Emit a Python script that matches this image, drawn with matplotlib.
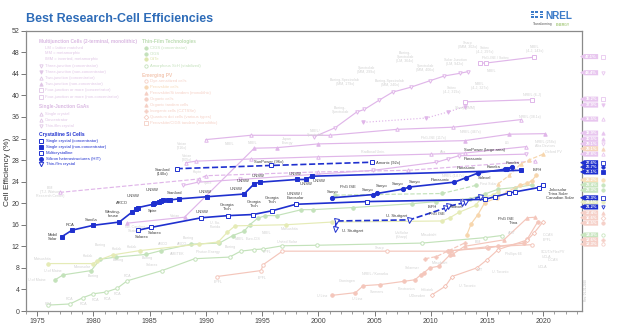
import matplotlib.pyplot as plt
from matplotlib.lines import Line2D
from matplotlib.patches import Polygon, Rectangle
from matplotlib.transforms import blended_transform_factory

plt.rcParams['font.family'] = ['Liberation Sans', 'DejaVu Sans']

W, H = 622, 328

# ---------------- crystalline Si cells (highlighted) ----------------
si_conc_year = [1987.4, 1995.8, 2004.8]
si_conc_eff = [26.4, 27.0, 27.6]

si_sc_year = [1977.2, 1978.1, 1980.0, 1982.3, 1983.4, 1983.8, 1984.0, 1985.3, 1985.4,
              1985.8, 1986.0, 1986.2, 1986.6, 1986.8, 1987.6, 1990.1, 1993.4, 1994.3,
              1994.8, 1998.1, 1998.9, 1999.4, 2018.0]
si_sc_eff = [13.8, 15.0, 15.9, 16.5, 18.3, 18.9, 19.2, 19.8, 20.1,
             20.2, 20.4, 20.5, 20.6, 20.6, 20.8, 21.2, 21.7, 23.6,
             23.9, 24.4, 24.4, 25.0, 26.1]

si_hit_year = [2001.2, 2004.9, 2005.2, 2007.5, 2008.1, 2012.1, 2013.1, 2014.2, 2016.6, 2016.8, 2017.2]
si_hit_eff = [21.0, 21.6, 21.8, 22.6, 23.0, 23.9, 24.7, 25.6, 26.3, 26.4, 26.7]

si_mc_year = [1984.0, 1985.1, 1989.6, 1992.0, 1994.2, 1995.9, 1998.0, 2004.3, 2014.8,
              2015.7, 2017.0, 2017.5, 2019.6, 2020.0]
si_mc_eff = [15.0, 15.5, 17.3, 17.7, 17.9, 18.6, 19.8, 20.3, 20.7,
             21.2, 21.9, 22.1, 22.9, 23.3]

si_tf_year = [2001.5, 2001.6, 2008.1, 2011.3, 2011.5, 2012.8, 2013.0, 2014.4]
si_tf_eff = [15.3, 16.7, 16.9, 19.1, 19.4, 20.0, 20.3, 21.2]

# ---------------- other technologies (background) ----------------
mj4_conc_year = [2014.4, 2014.9, 2019.2]
mj4_conc_eff = [46.0, 46.0, 47.1]

mj3_conc_year = [1999.6, 2001.5, 2003.4, 2004.1, 2005.4, 2006.6, 2008.2, 2009.9, 2011.2, 2012.6, 2013.3]
mj3_conc_eff = [32.3, 34.0, 36.9, 37.4, 39.1, 40.6, 41.5, 42.7, 43.6, 44.1, 44.4]

mj4_nc_year = [2013.0, 2019.0]
mj4_nc_eff = [38.8, 39.2]

mj3_nc_year = [2004.0, 2009.6, 2011.5, 2013.0]
mj3_nc_eff = [35.0, 35.8, 36.9, 37.9]

mj2_conc_year = [1990.0, 1994.0, 2001.0, 2007.0, 2012.0, 2018.0]
mj2_conc_eff = [31.8, 32.6, 32.6, 33.7, 34.1, 35.5]

mj2_nc_year = [1983.0, 1988.1, 1994.3, 1996.3, 2000.0, 2013.0, 2017.0, 2020.2]
mj2_nc_eff = [16.3, 17.4, 30.2, 30.3, 31.0, 31.6, 32.8, 32.9]

gaas_conc_year = [1988.2, 1989.1, 1994.0, 2000.0, 2010.0, 2013.0, 2018.5]
gaas_conc_eff = [27.5, 27.8, 28.2, 28.6, 29.1, 29.3, 30.5]

gaas_sc_year = [1977.0, 1989.4, 1990.0, 2000.0, 2008.0, 2019.3]
gaas_sc_eff = [22.0, 24.5, 25.1, 25.8, 26.1, 27.8]

gaas_tf_year = [1988.0, 1989.3, 1993.0, 2004.9, 2010.5, 2011.5, 2012.5, 2018.5]
gaas_tf_eff = [23.3, 23.9, 24.4, 26.1, 27.6, 28.2, 28.8, 29.1]

cigs_year = [1976.6, 1977.3, 1979.8, 1980.6, 1982.0, 1984.7, 1986.0, 1988.7, 1991.2, 1992.4,
             1993.4, 1993.9, 1994.6, 1995.3, 1996.3, 1998.5, 1999.5, 2003.1, 2008.3, 2010.5,
             2013.5, 2014.8, 2016.0, 2017.5, 2019.0]
cigs_eff = [5.8, 6.7, 7.5, 9.6, 10.0, 10.5, 11.2, 12.4, 12.6, 14.0,
            14.8, 16.0, 17.2, 17.7, 17.7, 18.8, 18.8, 19.2, 19.9, 20.3,
            20.8, 21.7, 22.6, 22.9, 23.4]

cigs_conc_year = [2001.5, 2011.0, 2014.0]
cigs_conc_eff = [21.5, 21.8, 23.3]

cdte_year = [1976.0, 1980.0, 1980.3, 1981.7, 1984.1, 1989.4, 1991.1, 1991.9, 1992.6, 1997.1,
             2001.2, 2011.0, 2011.7, 2012.5, 2014.0, 2014.5, 2015.5, 2016.0]
cdte_eff = [8.8, 8.8, 9.3, 10.4, 11.2, 12.4, 12.8, 14.6, 15.8, 16.0,
            16.5, 16.7, 17.3, 18.3, 19.6, 21.0, 21.5, 22.1]

asi_year = [1976.0, 1977.9, 1979.1, 1980.0, 1981.1, 1982.1, 1983.0, 1986.1, 1989.0, 1992.1,
            1993.1, 1994.3, 1995.1, 1996.8, 1999.9, 2009.2, 2014.8, 2016.3]
asi_eff = [1.1, 1.3, 2.5, 3.2, 3.5, 4.2, 5.6, 7.5, 9.7, 10.0,
           11.1, 11.4, 11.5, 12.1, 12.2, 12.6, 13.6, 14.0]

dssc_year = [1991.0, 1994.9, 1995.1, 1996.8, 2006.1, 2011.5, 2015.0, 2019.0]
dssc_eff = [6.4, 7.5, 8.6, 11.1, 11.1, 11.1, 11.9, 12.3]

opv_year = [2001.2, 2003.3, 2004.0, 2005.5, 2007.6, 2008.6, 2009.1, 2009.4, 2009.9, 2010.7,
            2011.7, 2011.8, 2015.1, 2016.0, 2018.3, 2018.6, 2019.5]
opv_eff = [2.9, 3.4, 4.7, 4.9, 5.5, 5.8, 6.7, 7.1, 8.0, 8.3,
           10.4, 11.2, 11.7, 12.0, 12.6, 13.4, 16.5]

opv_tandem_year = [2012.0, 2013.0, 2016.5, 2018.6, 2019.3]
opv_tandem_eff = [10.6, 12.0, 13.2, 17.3, 17.4]

qd_year = [2010.1, 2011.3, 2011.9, 2014.1, 2015.0, 2016.0, 2018.6, 2019.2, 2020.0]
qd_eff = [3.0, 4.6, 6.4, 8.0, 9.5, 11.4, 13.2, 14.5, 16.6]

cztsse_year = [2009.5, 2010.5, 2011.5, 2013.0]
cztsse_eff = [9.7, 10.1, 11.1, 12.6]

pvk_year = [2013.2, 2013.6, 2014.2, 2014.8, 2015.9, 2016.8, 2017.9, 2018.6, 2019.0, 2019.4]
pvk_eff = [14.1, 16.2, 17.9, 20.1, 21.0, 22.1, 23.3, 23.7, 24.2, 25.2]

pvk_si_year = [2016.0, 2017.0, 2018.0, 2018.7, 2020.0]
pvk_si_eff = [23.6, 25.2, 27.3, 28.0, 29.1]

# right-hand result tags: vertical slot of each tag (in % units)
tag_slot_si = [27.5, 26.7, 25.8, 21.0, 19.3]
tag_slot_bg = [47.2, 44.2, 39.3, 38.2, 35.6, 33.0, 31.9, 31.0, 30.1, 29.1,
               24.3, 23.4, 22.4, 20.2, 18.2, 17.3, 16.3, 14.1, 13.2, 12.4]

BLUE = '#1f30cf'
PURPLE = '#e0b6e9'
GREEN = '#c3e2ba'
YGREEN = '#e5ebb6'
ORANGE = '#f7d6ad'
SALMON = '#f4c6bb'
FAINT_TXT = '#d2d2d2'

fig = plt.figure(figsize=(W / 100, H / 100), dpi=100)
ax = fig.add_axes([26 / W, 1 - 311 / H, 556 / W, (311 - 30.7) / H])
ax.set_xlim(1974.0, 2023.45)
ax.set_ylim(0, 52)


def px(x, y):
    return x / W, 1 - y / H


def draw(xs, ys, color, marker, ls='-', open_=False, ms=2.5, lw=0.85, z=2):
    ax.plot(xs, ys, color=color, ls=ls, lw=lw, marker=marker, ms=ms,
            mfc='white' if open_ else color, mec=color, mew=0.7, zorder=z)


# background technologies
draw(mj4_conc_year, mj4_conc_eff, PURPLE, 's', open_=True)
draw(mj3_conc_year, mj3_conc_eff, PURPLE, 'v', open_=True)
draw(mj4_nc_year, mj4_nc_eff, PURPLE, 's', open_=True)
draw(mj3_nc_year, mj3_nc_eff, PURPLE, 'v', ls=':')
draw(mj2_conc_year, mj2_conc_eff, PURPLE, '^', open_=True)
draw(mj2_nc_year, mj2_nc_eff, PURPLE, '^')
draw(gaas_conc_year, gaas_conc_eff, PURPLE, '^', open_=True)
draw(gaas_sc_year, gaas_sc_eff, PURPLE, '^', ls='--', open_=True)
draw(gaas_tf_year, gaas_tf_eff, PURPLE, 'v', open_=True)
draw(cigs_year, cigs_eff, GREEN, 'o')
draw(cigs_conc_year, cigs_conc_eff, GREEN, 'o', ls='--')
draw(cdte_year, cdte_eff, YGREEN, 'o')
draw(asi_year, asi_eff, GREEN, 'o', open_=True)
draw(dssc_year, dssc_eff, SALMON, 'o', open_=True)
draw(opv_year, opv_eff, SALMON, 'o')
draw(opv_tandem_year, opv_tandem_eff, SALMON, '^')
draw(qd_year, qd_eff, SALMON, 'D', open_=True, ms=2.2)
draw(cztsse_year, cztsse_eff, SALMON, 'P', ls='--', ms=2.4)
draw(pvk_year, pvk_eff, ORANGE, 'o')
draw(pvk_si_year, pvk_si_eff, ORANGE, '^', ls='--')

# crystalline Si
draw(si_conc_year, si_conc_eff, BLUE, 's', ls='--', open_=True, ms=2.8, lw=1.2, z=5)
draw(si_sc_year, si_sc_eff, BLUE, 's', ms=2.8, lw=1.2, z=5)
draw(si_hit_year, si_hit_eff, BLUE, 'o', ms=3.0, lw=1.2, z=5)
draw(si_mc_year, si_mc_eff, BLUE, 's', open_=True, ms=3.4, lw=1.2, z=5)
draw(si_tf_year, si_tf_eff, BLUE, 'v', ls='--', open_=True, ms=3.6, lw=1.2, z=5)

# axes styling
ax.set_yticks(range(0, 53, 4))
ax.set_xticks(range(1975, 2021, 5))
ax.set_xticks(range(1974, 2024), minor=True)
ax.tick_params(axis='both', which='major', direction='out', length=3.5, width=0.7,
               color='#777777', labelsize=5, labelcolor='#444444', pad=1.2)
ax.tick_params(axis='x', which='minor', direction='out', length=2, width=0.5, color='#777777')
for s in ax.spines.values():
    s.set_color('#8a8a8a')
    s.set_linewidth(0.9)

# result tags at the right edge
tr = blended_transform_factory(ax.transAxes, ax.transData)


def tag(value, slot, face, marker, open_=False, txt='white'):
    h = 0.47
    x0, x1, x2 = 0.9964, 1.004, 1.029
    poly = Polygon([(x0, slot), (x1, slot + h), (x2, slot + h), (x2, slot - h), (x1, slot - h)],
                   closed=True, transform=tr, clip_on=False, facecolor=face, edgecolor='none', zorder=6)
    ax.add_patch(poly)
    ax.text((x1 + x2) / 2, slot, f'{value:.1f}%', transform=tr, fontsize=2.9, color=txt,
            ha='center', va='center', clip_on=False, zorder=7, fontweight='bold')
    ax.plot([1.037], [slot], transform=tr, clip_on=False, marker=marker, ms=2.4,
            mfc='white' if open_ else face, mec=face, mew=0.6, ls='none', zorder=7)


bg_tags = [
    (mj4_conc_eff, '#e8c6ef', 's', True), (mj3_conc_eff, '#e8c6ef', 'v', True),
    (mj4_nc_eff, '#e8c6ef', 's', True), (mj3_nc_eff, '#e8c6ef', 'v', False),
    (mj2_conc_eff, '#e8c6ef', '^', True), (mj2_nc_eff, '#e8c6ef', '^', False),
    (gaas_conc_eff, '#e8c6ef', '^', False), (gaas_tf_eff, '#e8c6ef', 'v', True),
    (pvk_si_eff, '#f6d6be', '^', False), (gaas_sc_eff, '#e8c6ef', '^', True),
    (pvk_eff, '#f8e0bb', 'o', False), (cigs_eff, '#c8e5bf', 'o', False),
    (cigs_conc_eff, '#c8e5bf', 'o', False), (cdte_eff, '#e7edc2', 'o', False),
    (opv_tandem_eff, '#f5d0c8', '^', False), (qd_eff, '#f5d0c8', 'D', True),
    (opv_eff, '#f5d0c8', 'o', False), (asi_eff, '#c8e5bf', 'o', True),
    (cztsse_eff, '#f5d0c8', 'P', False), (dssc_eff, '#f5d0c8', 'o', True),
]
for (vals, face, mk, op), slot in zip(bg_tags, tag_slot_bg):
    tag(vals[-1], slot, face, mk, op)

si_tags = [(si_conc_eff, 's', True), (si_hit_eff, 'o', False), (si_sc_eff, 's', False),
           (si_mc_eff, 's', True), (si_tf_eff, 'v', True)]
for (vals, mk, op), slot in zip(si_tags, tag_slot_si):
    tag(vals[-1], slot, BLUE, mk, op)

# point labels on the Si curves
si_labels = [
    ('Mobil\nSolar', 53, 237), ('RCA', 70, 225), ('Sandia', 91, 220), ('Westing-\nhouse', 113, 214),
    ('ARCO', 122, 203), ('UNSW', 133, 196), ('Spire', 153, 211), ('UNSW', 152, 190),
    ('Stanford', 175, 193), ('Stanford\n(140x)', 163, 172), ('Solarex', 142, 237), ('Solarex', 155, 233),
    ('UNSW', 205, 192), ('UNSW', 236, 189), ('UNSW', 243, 181), ('UNSW', 258, 176),
    ('UNSW', 295, 174), ('UNSW', 306, 184), ('UNSW', 319, 181), ('SunPower (96x)', 269, 162),
    ('UNSW', 202, 212), ('Georgia\nTech', 227, 207), ('Georgia\nTech', 254, 204),
    ('Georgia\nTech', 272, 200), ('UNSW /\nEurosolar', 295, 196), ('Sanyo', 333, 192),
    ('FhG ISE', 348, 187), ('Amonix (92x)', 388, 163), ('Sanyo', 368, 190), ('Sanyo', 382, 186),
    ('Sanyo', 398, 184), ('Sanyo', 415, 182), ('Panasonic', 440, 180), ('Panasonic', 466, 168),
    ('Panasonic', 473, 159), ('Kaneka', 494, 167), ('Kaneka', 513, 163), ('ISFH', 537, 170),
    ('SunPower (large area)', 485, 150), ('Solexel', 484, 178), ('FhG ISE', 506, 219),
    ('Trina', 513, 223), ('Jinkosolar', 558, 190), ('Trina Solar', 558, 194),
    ('Canadian Solar', 560, 198), ('U. Stuttgart', 397, 216), ('U. Stuttgart', 353, 231),
    ('ISFH', 432, 207), ('FhG ISE', 437, 214), ('Solexel', 456, 207),
]
for t, x, y in si_labels:
    fig.text(*px(x, y), t, fontsize=3.0, color='#3c3c3c', ha='center', va='center',
             linespacing=0.9, zorder=8)

bg_labels = [
    ('IBM\n(T.J. Watson\nResearch Center)', 50, 192), ('Varian\n(216x)', 182, 146),
    ('Varian\n(205x)', 187, 158), ('Kopin', 197, 172), ('Spire', 208, 183), ('NREL', 230, 144),
    ('NREL', 253, 143), ('Japan\nEnergy', 287, 141), ('NREL/\nSpectrolab', 315, 133),
    ('Varian', 175, 216), ('No. Carolina\nState U.', 135, 229), ('Matsushita', 43, 259),
    ('U of Maine', 37, 280), ('U of Maine', 53, 271), ('Monosolar', 82, 267), ('Kodak', 88, 256),
    ('Boeing', 93, 276), ('Boeing', 100, 245), ('Kodak', 117, 249), ('Boeing', 118, 260),
    ('Kodak', 132, 247), ('Boeing', 147, 258), ('ARCO', 163, 244), ('ARCO', 182, 244),
    ('AMETEK', 177, 254), ('Boeing', 188, 238), ('Photon Energy', 208, 252),
    ('U. So.\nFlorida', 215, 225), ('NREL', 240, 239), ('Boeing', 230, 247), ('Euro-CIS', 253, 239),
    ('NREL', 267, 233), ('Matsushita', 290, 229), ('United Solar', 287, 242), ('EPFL', 267, 252),
    ('EPFL', 262, 278), ('EPFL', 218, 282), ('Solarex', 152, 265), ('RCA', 127, 276),
    ('RCA', 48, 304), ('RCA', 70, 299), ('RCA', 83, 304), ('RCA', 95, 300), ('RCA', 107, 299),
    ('RCA', 118, 294), ('U Linz', 322, 296), ('U Linz', 357, 299), ('Groningen', 347, 281),
    ('Siemens', 377, 292), ('NREL / Konarka', 375, 274), ('Plextronics', 407, 289),
    ('Solarmer', 412, 268), ('U.Dresden', 417, 296), ('Heliatek', 427, 290), ('Mitsubishi', 440, 263),
    ('UniSolar\n(Sharp)', 402, 235), ('Mitsubishi', 429, 235), ('Sharp', 380, 248),
    ('U. Toronto', 467, 286), ('MIT', 480, 270), ('U. Toronto', 500, 272), ('Phillips 66', 513, 254),
    ('UCLA', 542, 267), ('IBM', 478, 242), ('AIST', 512, 233), ('ICCAS', 548, 235), ('EPFL', 547, 240),
    ('SCUT/eFlexPV', 553, 252), ('UCLA', 547, 257), ('ICCAS', 553, 260),
    ('Boeing-\nSpectrolab', 340, 110), ('Spectrolab\n(MM, 299x)', 366, 70), ('Boeing-\nSpectrolab\n(LM, 364x)', 405, 57),
    ('Sharp\n(IMM, 302x)', 468, 45), ('Soitec\n(4-J, 297x)', 485, 50), ('NREL\n(4-J, 143x)', 535, 49),
    ('Solar Junction\n(LM, 942x)', 455, 62), ('FhG-ISE / Soitec', 495, 58), ('NREL', 492, 71),
    ('Spectrolab\n(MM, 406x)', 425, 68), ('Boeing-Spectrolab\n(MM, 179x)', 345, 82),
    ('Boeing-Spectrolab\n(MM, 240x)', 390, 83), ('Soitec\n(4-J, 319x)', 452, 90), ('NREL\n(4-J, 327x)', 480, 86),
    ('NREL (6-J)', 532, 95), ('Sharp (IMM)', 465, 108), ('NREL (38.1x)', 530, 117),
    ('NREL (467x)', 470, 132), ('FhG-ISE (117x)', 433, 138), ('LG', 507, 143), ('NREL (258x)', 545, 142),
    ('Alta Devices', 545, 146), ('Radboud Univ.', 373, 152), ('Alta', 443, 152), ('Oxford PV', 553, 152),
    ('NREL (14.7x)', 453, 176), ('First Solar', 488, 184), ('GE', 462, 200),
]
for t, x, y in bg_labels:
    fig.text(*px(x, y), t, fontsize=2.6, color=FAINT_TXT, ha='center', va='center',
             linespacing=0.9, zorder=1)

# legend block
leg_faint = [
    ('Multijunction Cells (2-terminal, monolithic)', 38.7, 42, '#dab9e2', True, None),
    ('LM = lattice matched', 45, 47.7, '#e0c6e6', False, None),
    ('MM = metamorphic', 45, 53.3, '#e0c6e6', False, None),
    ('IMM = inverted, metamorphic', 45, 59, '#e0c6e6', False, None),
    ('Three-junction (concentrator)', 45, 66.3, '#e0c6e6', False, ('v', True)),
    ('Three-junction (non-concentrator)', 45, 72, '#e0c6e6', False, ('v', False)),
    ('Two-junction (concentrator)', 45, 78, '#e0c6e6', False, ('^', True)),
    ('Two-junction (non-concentrator)', 45, 83.7, '#e0c6e6', False, ('^', False)),
    ('Four-junction or more (concentrator)', 45, 89.7, '#e0c6e6', False, ('s', True)),
    ('Four-junction or more (non-concentrator)', 45, 97, '#e0c6e6', False, ('s', True)),
    ('Single-Junction GaAs', 38.7, 106.7, '#dab9e2', True, None),
    ('Single crystal', 45, 114, '#e0c6e6', False, ('^', True)),
    ('Concentrator', 45, 120, '#e0c6e6', False, ('^', True)),
    ('Thin-film crystal', 45, 126, '#e0c6e6', False, ('v', True)),
    ('Thin-Film Technologies', 142, 42, '#bcdcb2', True, None),
    ('CIGS (concentrator)', 150, 48, '#c4e1bb', False, ('o', False)),
    ('CIGS', 150, 53.7, '#c4e1bb', False, ('o', False)),
    ('CdTe', 150, 59.3, '#dee6ae', False, ('o', False)),
    ('Amorphous Si:H (stabilized)', 150, 65.7, '#c4e1bb', False, ('o', True)),
    ('Emerging PV', 142, 75, '#f3c8b3', True, None),
    ('Dye-sensitized cells', 150, 81, '#f5d0c5', False, ('o', True)),
    ('Perovskite cells', 150, 87, '#f7d8b6', False, ('o', False)),
    ('Perovskite/Si tandem (monolithic)', 150, 93, '#f5d0c5', False, ('^', False)),
    ('Organic cells', 150, 99, '#f5d0c5', False, ('o', False)),
    ('Organic tandem cells', 150, 105, '#f5d0c5', False, ('^', False)),
    ('Inorganic cells (CZTSSe)', 150, 111, '#f5d0c5', False, ('P', False)),
    ('Quantum dot cells (various types)', 150, 117.3, '#f5d0c5', False, ('D', True)),
    ('Perovskite/CIGS tandem (monolithic)', 150, 123.3, '#f5d0c5', False, ('s', True)),
]
for t, x, y, c, bold, mk in leg_faint:
    fig.text(*px(x, y), t, fontsize=3.4 if bold else 3.0, color=c, va='center',
             fontweight='bold' if bold else 'normal')
    if mk:
        fig.add_artist(Line2D([(x - 4.5) / W], [1 - y / H], transform=fig.transFigure, marker=mk[0],
                              ms=2.4, mfc='white' if mk[1] else c, mec=c, mew=0.6, ls='none'))

fig.text(*px(38.7, 134.7), 'Crystalline Si Cells', fontsize=3.6, color=BLUE, va='center',
         fontweight='bold')
leg_si = [('Single crystal (concentrator)', 141, 's', True, 2.2),
          ('Single crystal (non-concentrator)', 146.7, 's', False, 2.2),
          ('Multicrystalline', 152.7, 's', True, 3.0),
          ('Silicon heterostructures (HIT)', 158.7, 'o', False, 2.8),
          ('Thin-film crystal', 164.3, 'v', True, 3.2)]
for t, y, mk, op, ms in leg_si:
    fig.text(*px(46, y), t, fontsize=3.1, color=BLUE, va='center')
    fig.add_artist(Line2D([41 / W], [1 - y / H], transform=fig.transFigure, marker=mk, ms=ms,
                          mfc='white' if op else BLUE, mec=BLUE, mew=0.7, ls='none'))

# title, axis label and logo
fig.text(*px(26.5, 19), 'Best Research-Cell Efficiencies', fontsize=9, fontweight='bold',
         color='#2e6cb8', va='center')
fig.text(*px(8, 172), 'Cell Efficiency (%)', fontsize=6, color='#333333', rotation=90,
         ha='center', va='center')
fig.text(*px(545, 16), 'NREL', fontsize=7.2, fontweight='bold', color='#3d7cc9', va='center')
for i in range(3):
    for j in range(3):
        if (i, j) != (1, 1):
            fig.add_artist(Rectangle(((531 + 4.3 * i) / W, 1 - (13 + 2.4 * j) / H), 3 / W, 1.8 / H,
                                     transform=fig.transFigure, facecolor='#3d7cc9', edgecolor='none'))
fig.text(*px(533, 24.5), 'Transforming', fontsize=2.4, color='#555555', va='center')
fig.text(*px(556, 24.5), 'ENERGY', fontsize=2.4, color='#7fb241', va='center')
fig.text(*px(586, 290), 'Rev. 01-31-2020', fontsize=2.2, color='#bbbbbb', rotation=90,
         ha='center', va='center')

fig.savefig('out.png', dpi=100)
